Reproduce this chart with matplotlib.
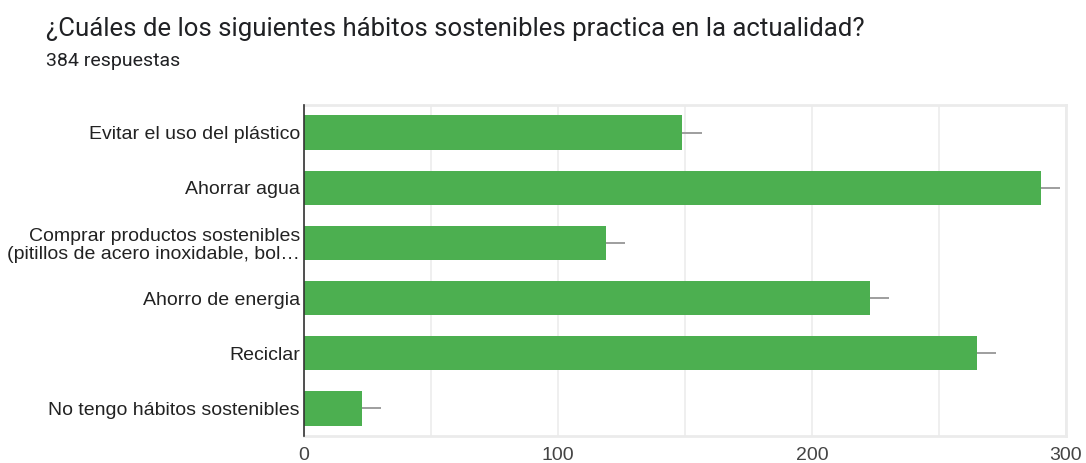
import matplotlib.pyplot as plt

habitos = [
    "Evitar el uso del plástico",
    "Ahorrar agua",
    "Comprar productos sostenibles\n(pitillos de acero inoxidable, bol…",
    "Ahorro de energia",
    "Reciclar",
    "No tengo hábitos sostenibles",
]
respuestas = [149, 290, 119, 223, 265, 23]
marca_etiqueta = 7.5  # short grey stub where the value label would sit

fig = plt.figure(figsize=(10.86, 4.63), dpi=100)
ax = fig.add_axes([0.2799, 0.0583, 0.7017, 0.7149])

y = range(len(habitos))
ax.barh(y, respuestas, height=0.62, color="#4caf50", zorder=3)
ax.errorbar(respuestas, y, xerr=[[0] * len(respuestas), [marca_etiqueta] * len(respuestas)],
            fmt="none", ecolor="#9e9e9e", elinewidth=1.4, capsize=0, zorder=2)

ax.set_xlim(0, 300)
ax.set_ylim(5.5, -0.5)
ax.set_xticks([0, 100, 200, 300])
ax.set_xticks([50, 150, 250], minor=True)
ax.grid(axis="x", which="both", color="#ececec", linewidth=1.2, zorder=0)
ax.tick_params(axis="x", which="both", length=0, pad=8)
ax.tick_params(axis="y", length=0, pad=3)
ax.set_yticks(list(y))
ax.set_yticklabels(habitos, family=["Liberation Sans", "DejaVu Sans"], fontsize=14,
                   color="#222222", linespacing=1.1)
ax.set_xticklabels(["0", "100", "200", "300"], family=["Liberation Sans", "DejaVu Sans"],
                   fontsize=14, color="#444444")

for side in ("top", "right", "bottom"):
    ax.spines[side].set_color("#ebebeb")
    ax.spines[side].set_linewidth(2)
ax.spines["left"].set_color("#333333")
ax.spines["left"].set_linewidth(1.2)
ax.spines["left"].set_zorder(4)

fig.text(0.0424, 0.938, "¿Cuáles de los siguientes hábitos sostenibles practica en la actualidad?",
         fontsize=18.5, color="#202124", family="Roboto", va="center")
fig.text(0.0424, 0.868, "384 respuestas", fontsize=14, color="#202124", family="Roboto", va="center")

fig.savefig("out.png", dpi=100)
